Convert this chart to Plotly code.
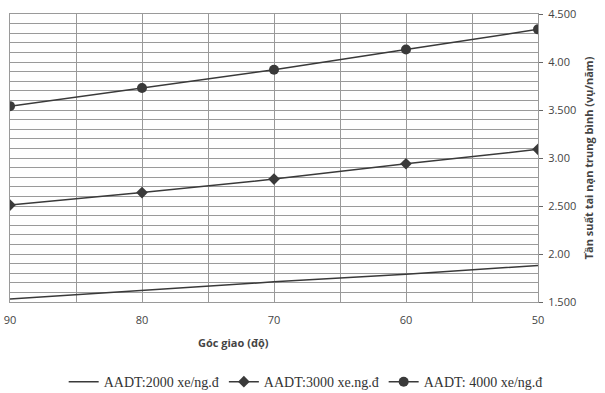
import plotly.graph_objects as go

angles = [90, 80, 70, 60, 50]
aadt_2000 = [1.53, 1.62, 1.71, 1.79, 1.88]
aadt_3000 = [2.51, 2.64, 2.78, 2.94, 3.09]
aadt_4000 = [3.54, 3.73, 3.92, 4.13, 4.34]
names = ["AADT:2000 xe/ng.đ", "AADT:3000 xe.ng.đ", "AADT: 4000 xe/ng.đ"]
y_tickvals = [1.5, 2.0, 2.5, 3.0, 3.5, 4.0, 4.5]
y_ticktext = ["1.500", "2.00", "2.500", "3.00", "3.500", "4.00", "4.500"]
x_tickvals = [90, 80, 70, 60, 50]

line_col = "#3a3a3a"
fig = go.Figure()
fig.add_trace(go.Scatter(x=angles, y=aadt_2000, name=names[0], mode="lines",
                         line=dict(color=line_col, width=1.5)))
fig.add_trace(go.Scatter(x=angles, y=aadt_3000, name=names[1], mode="lines+markers",
                         line=dict(color=line_col, width=1.5),
                         marker=dict(symbol="diamond", size=9, color=line_col)))
fig.add_trace(go.Scatter(x=angles, y=aadt_4000, name=names[2], mode="lines+markers",
                         line=dict(color=line_col, width=1.5),
                         marker=dict(symbol="circle", size=10, color=line_col)))

grid_col = "#9a9a9a"
fig.update_layout(
    width=605, height=393,
    margin=dict(l=10, r=67, t=14, b=91, autoexpand=False),
    paper_bgcolor="white", plot_bgcolor="white",
    showlegend=True,
    legend=dict(orientation="h", x=0.56, xanchor="center", y=-0.278, yanchor="middle",
                font=dict(family="Liberation Serif", size=14, color="#333"),
                itemwidth=30, tracegroupgap=0),
    xaxis=dict(range=[90, 50], tickvals=x_tickvals, ticktext=[str(v) for v in x_tickvals],
               showgrid=True, gridcolor=grid_col, gridwidth=1,
               minor=dict(dtick=5, showgrid=True, gridcolor=grid_col, gridwidth=1),
               showline=True, linecolor=grid_col, mirror=True,
               ticks="", ticklabelstandoff=8,
               tickfont=dict(family="Open Sans", size=11, color="#444"),
               zeroline=False, fixedrange=True),
    yaxis=dict(range=[1.5, 4.5], side="right", tickvals=y_tickvals, ticktext=y_ticktext,
               showgrid=True, gridcolor=grid_col, gridwidth=1,
               minor=dict(dtick=0.1, showgrid=True, gridcolor=grid_col, gridwidth=1),
               showline=True, linecolor=grid_col, mirror=True,
               ticks="outside", ticklen=4, tickcolor="#666", ticklabelstandoff=3,
               tickfont=dict(family="Open Sans", size=11, color="#444"),
               title=dict(text="Tần suất tai nạn trung bình (vụ/năm)",
                          font=dict(family="Open Sans", size=11, color="#444", weight="bold"),
                          standoff=10),
               zeroline=False, fixedrange=True),
    annotations=[dict(text="<b>Góc giao (độ)</b>", xref="paper", yref="paper",
                      x=0.424, y=-0.142, xanchor="center", yanchor="middle", showarrow=False,
                      font=dict(family="Open Sans", size=11, color="#444"))],
)
fig.write_html("out.html")
